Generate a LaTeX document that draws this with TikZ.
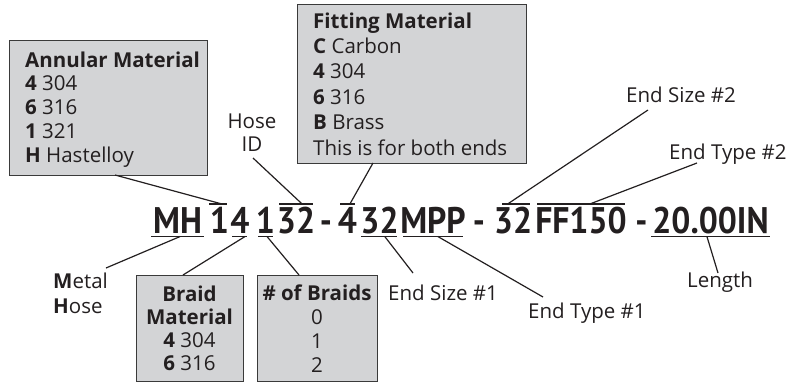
\documentclass[tikz,border=0pt]{standalone}
\usepackage{fontspec}
\setmainfont{Open Sans}
\newfontfamily\codefont{PT Sans}[FakeStretch=0.91]
\definecolor{ink}{HTML}{231F20}
\definecolor{boxfill}{HTML}{D3D4D6}
\definecolor{boxline}{HTML}{3A3A3A}
\newcommand\stackL[2]{\vtop{\baselineskip=#1\lineskiplimit=-100pt\lineskip=0pt\halign{##\hfil\cr#2\crcr}}}
\newcommand\stackC[2]{\vtop{\baselineskip=#1\lineskiplimit=-100pt\lineskip=0pt\halign{\hfil##\hfil\cr#2\crcr}}}
\begin{document}
\begin{tikzpicture}[x=1pt,y=-1pt,
  code/.style={font=\codefont\fontsize{37}{40}\selectfont\bfseries, text=ink, inner sep=0pt, anchor=base},
  lbl/.style={font=\fontsize{20.5}{24}\selectfont, text=ink, inner sep=0pt},
  infobox/.style={draw=boxline, fill=boxfill, line width=1.2pt, inner sep=0pt, anchor=north west},
  bar/.style={draw=ink, line width=1.6pt},
  lead/.style={draw=ink, line width=1.2pt}]
\useasboundingbox[fill=white] (0,0) rectangle (788,391);

% boxes
\node[infobox, minimum width=198pt, minimum height=135pt] (annbox) at (9,40) {};
\node[infobox, minimum width=229pt, minimum height=159pt] (fitbox) at (297,4) {};
\node[infobox, minimum width=107pt, minimum height=106pt] (braidbox) at (136,275) {};
\node[infobox, minimum width=120pt, minimum height=106pt] (numbox) at (257,275) {};

\node[lbl, anchor=base west] (anntext) at (25,67)
  {\stackL{23.75pt}{\textbf{Annular Material}\cr \textbf{4}\ 304\cr \textbf{6}\ 316\cr \textbf{1}\ 321\cr \textbf{H}\ Hastelloy}};
\node[lbl, anchor=base west] (fittext) at (313,28)
  {\stackL{25.4pt}{\textbf{Fitting Material}\cr \textbf{C} Carbon\cr \textbf{4} 304\cr \textbf{6} 316\cr \textbf{B} Brass\cr This is for both ends}};
\node[lbl, anchor=base] (braidtext) at (189.5,301)
  {\stackC{23pt}{\textbf{Braid}\cr \textbf{Material}\cr \textbf{4} 304\cr \textbf{6} 316}};
\node[lbl, anchor=base] (numtext) at (317,300)
  {\stackC{24.3pt}{\textbf{\# of Braids}\cr 0\cr 1\cr 2}};

% labels
\node[lbl, anchor=base] (hoseid) at (252,128.3) {\stackC{23.4pt}{Hose\cr ID}};
\node[lbl, anchor=base west] (metal) at (53,288) {\stackL{25pt}{\textbf{M}etal\cr \textbf{H}ose}};
\node[lbl, anchor=base west] (es2) at (626,102) {End Size \#2};
\node[lbl, anchor=base west] (et2) at (669,159) {End Type \#2};
\node[lbl, anchor=base west] (es1) at (388,300) {End Size \#1};
\node[lbl, anchor=base west] (et1) at (528,318) {End Type \#1};
\node[lbl, anchor=base west] (len) at (687,287) {Length};

% code tokens
\node[code] (mh) at (177.5,233) {MH};
\node[code] (c1) at (219.5,233) {1};
\node[code] (c4) at (240,233) {4};
\node[code] (c1b) at (265.5,233) {1};
\node[code] (c32) at (296,233) {32};
\node[code] (d1) at (326,233) {-};
\node[code] (f4) at (347.5,233) {4};
\node[code] (s32) at (379.5,233) {32};
\node[code] (mpp) at (433,233) {MPP};
\node[code] (d2) at (479,233) {-};
\node[code] (s32b) at (513,233) {32};
\node[code] (ff) at (581,233) {FF150};
\node[code] (d3) at (641.5,233) {-};
\node[code] (lenc) at (710.5,233) {20.00IN};

% under/overlines
\draw[bar] (151,236.5) -- coordinate[pos=0.55] (mhU) (204,236.5);
\draw[bar] (209,204) -- coordinate[pos=0.72] (c1O) (227,204);
\draw[bar] (232,236.5) -- coordinate[pos=0.87] (c4U) (247,236.5);
\draw[bar] (258,236.5) -- coordinate[pos=0.6] (c1bU) (273,236.5);
\draw[bar] (279,204) -- coordinate[pos=0.68] (c32O) (313,204);
\draw[bar] (340,204) -- coordinate[pos=0.66] (f4O) (355,204);
\draw[bar] (361,236.5) -- coordinate[pos=0.66] (s32U) (397,236.5);
\draw[bar] (403,236.5) -- coordinate[pos=0.58] (mppU) (463,236.5);
\draw[bar] (502,204) -- coordinate[pos=0.2] (s32bO) (530,204);
\draw[bar] (537,204) -- coordinate[pos=0.6] (ffO) (625,204);
\draw[bar] (651,236.5) -- coordinate[pos=0.47] (lenU) (770,236.5);

% leader end points on labels
\coordinate (annP) at (115,175);
\coordinate (hoseP) at (253,158);
\coordinate (fitP) at (373,163);
\coordinate (es2P) at (648,110);
\coordinate (et2P) at (697,163);
\coordinate (metalP) at (106,268);
\coordinate (braidP) at (183,275);
\coordinate (numP) at (299,275);
\coordinate (es1P) at (413,273);
\coordinate (et1P) at (543,297);
\coordinate (lenP) at (718,273);

% leaders
\draw[lead] (annP) -- (c1O);
\draw[lead] (hoseP) -- (c32O);
\draw[lead] (fitP) -- (f4O);
\draw[lead] (es2P) -- (s32bO);
\draw[lead] (et2P) -- (ffO);
\draw[lead] (metalP) -- (mhU);
\draw[lead] (braidP) -- (c4U);
\draw[lead] (numP) -- (c1bU);
\draw[lead] (s32U) -- (es1P);
\draw[lead] (mppU) -- (et1P);
\draw[lead] (lenU) -- (lenP);
\end{tikzpicture}
\end{document}
